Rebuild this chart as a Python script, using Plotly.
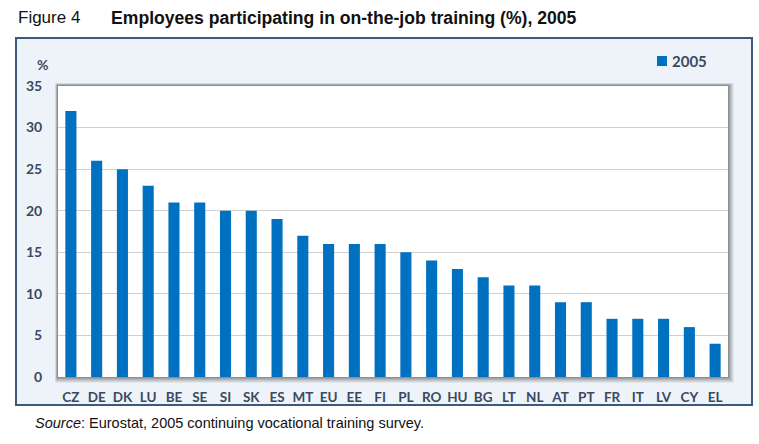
import plotly.graph_objects as go

countries = ["CZ","DE","DK","LU","BE","SE","SI","SK","ES","MT","EU","EE","FI",
             "PL","RO","HU","BG","LT","NL","AT","PT","FR","IT","LV","CY","EL"]
values_2005 = [32,26,25,23,21,21,20,20,19,17,16,16,16,15,14,13,12,11,11,9,9,7,7,7,6,4]
y_ticks = [0,5,10,15,20,25,30,35]
series_name = "2005"

W, H = 759, 444
L, R, T, B = 58, 728, 86, 377
PW, PH = R - L, B - T

def px(x):
    return (x - L) / PW

def py(y):
    return (B - y) / PH

BAR = "#0070C0"
TXT = "#3A4A5E"
CAL = "Lato, 'Open Sans', sans-serif"

fig = go.Figure(go.Bar(x=countries, y=values_2005, name=series_name,
                       marker=dict(color=BAR, line=dict(width=0)), width=0.43,
                       showlegend=False))

shapes = [
    dict(type="rect", xref="paper", yref="paper", x0=px(16), x1=px(752), y0=py(405), y1=py(38),
         fillcolor="#EEF3FA", line=dict(color="#3D5A7C", width=2), layer="below"),
]
# soft shadow around plot area
for i, op in enumerate([0.08, 0.10, 0.12, 0.15, 0.18, 0.22]):
    d = 6 - i
    shapes.append(dict(type="rect", xref="paper", yref="paper",
                       x0=px(L - 3 + i * 0.4), x1=px(R + d), y0=py(B + d), y1=py(T - 3 + i * 0.4),
                       fillcolor=f"rgba(80,80,80,{op})", line=dict(width=0), layer="below"))
shapes.append(dict(type="rect", xref="paper", yref="paper", x0=0, x1=1, y0=0, y1=1,
                   fillcolor="white", line=dict(width=0), layer="below"))
# legend marker
shapes.append(dict(type="rect", xref="paper", yref="paper", x0=px(657), x1=px(667), y0=py(66), y1=py(56),
                   fillcolor=BAR, line=dict(width=0), layer="above"))

annotations = [
    dict(text="Figure 4", xref="paper", yref="paper", x=px(16), y=py(18), xanchor="left", yanchor="middle",
         showarrow=False, font=dict(family="Liberation Sans, Arial", size=17, color="#111111")),
    dict(text="<b>Employees participating in on-the-job training (%), 2005</b>", xref="paper", yref="paper",
         x=px(109), y=py(18), xanchor="left", yanchor="middle", showarrow=False,
         font=dict(family="Liberation Sans, Arial", size=17.6, color="#111111")),
    dict(text="%", xref="paper", yref="paper", x=px(42), y=py(64), xanchor="center", yanchor="middle",
         showarrow=False, font=dict(family=CAL, size=14, color=TXT, weight=700)),
    dict(text=series_name, xref="paper", yref="paper", x=px(670), y=py(61),
         xanchor="left", yanchor="middle", showarrow=False,
         font=dict(family=CAL, size=15, color=TXT, weight=700)),
    dict(text="<i>Source</i>: Eurostat, 2005 continuing vocational training survey.", xref="paper", yref="paper",
         x=px(33), y=py(423), xanchor="left", yanchor="middle", showarrow=False,
         font=dict(family="Liberation Sans, Arial", size=14.5, color="#111111")),
]

fig.update_layout(
    width=W, height=H,
    margin=dict(l=L, r=W - R, t=T, b=H - B, pad=0),
    paper_bgcolor="white", plot_bgcolor="white",
    bargap=0.57,
    shapes=shapes, annotations=annotations,
    showlegend=False,
    xaxis=dict(showgrid=False, showline=False, zeroline=False, ticks="outside", ticklen=8,
               tickcolor="rgba(0,0,0,0)", tickfont=dict(family=CAL, size=13.5, color=TXT, weight=700),
               range=[-0.5, len(countries) - 0.5], automargin=False),
    yaxis=dict(range=[0, 35], tickvals=y_ticks, showgrid=True, gridcolor="#D0D0D0", gridwidth=1,
               zeroline=False, showline=False, ticks="outside", ticklen=12,
               tickcolor="rgba(0,0,0,0)", tickfont=dict(family=CAL, size=14, color=TXT, weight=700),
               automargin=False),
)

fig.write_html("out.html", config={"displayModeBar": False},
               post_script="document.body.style.margin='0';document.body.style.padding='0';"
                           "document.body.style.overflow='hidden';")
